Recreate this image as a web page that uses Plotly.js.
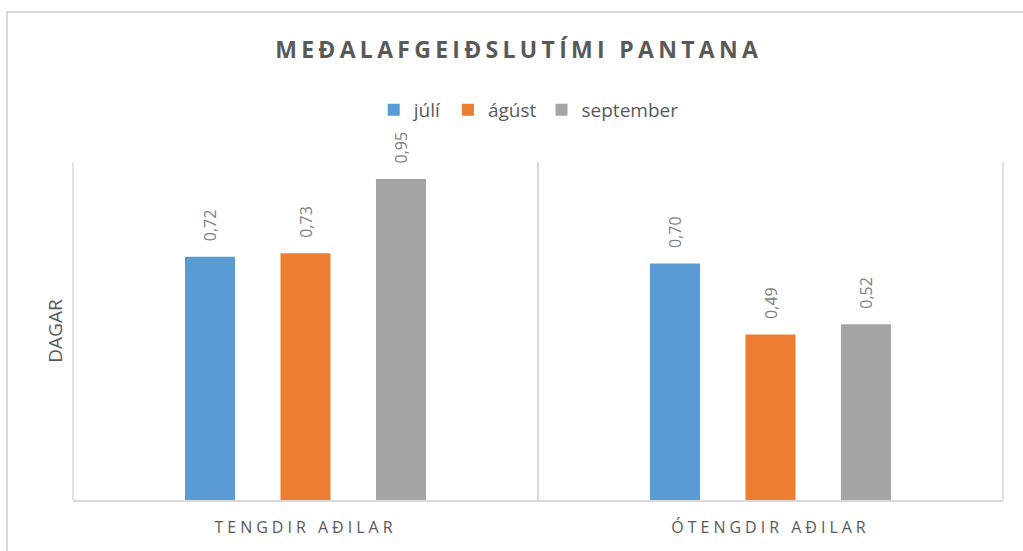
<!DOCTYPE html>
<html>
<head>
<meta charset="utf-8">
<script src="https://cdn.plot.ly/plotly-3.0.1.min.js"></script>
<style>
html,body{margin:0;padding:0;background:#fff;overflow:hidden;}
#wrap{position:relative;width:1023px;height:551px;}
#chart{width:1023px;height:551px;}
#frame{position:absolute;left:6px;top:11px;width:1040px;height:580px;border:2px solid #d9d9d9;pointer-events:none;box-sizing:border-box;}
.gtitle{letter-spacing:4.3px;}
.xtick text{letter-spacing:4px;}
</style>
</head>
<body>
<div id="wrap">
<div id="chart"></div>
<div id="frame"></div>
</div>
<script>
const categories = ["TENGDIR AÐILAR", "ÓTENGDIR AÐILAR"];
const seriesNames = ["júlí", "ágúst", "september"];
const juli = [0.72, 0.70];
const agust = [0.73, 0.49];
const september = [0.95, 0.52];
const colors = ["#5B9BD5", "#ED7D31", "#A5A5A5"];

const values = [juli, agust, september];
const traces = values.map((v, i) => ({
  type: "bar",
  name: seriesNames[i],
  x: categories,
  y: v,
  marker: {color: colors[i]},
  texttemplate: "\u00A0\u00A0\u00A0%{y:.2f}",
  textposition: "outside",
  textangle: -90,
  constraintext: "none",
  textfont: {family: "Open Sans", size: 16, color: "#808080"},
  cliponaxis: false,
  hoverinfo: "skip"
}));

const layout = {
  width: 1023, height: 551,
  margin: {l: 73, r: 20, t: 162, b: 51},
  paper_bgcolor: "#fff", plot_bgcolor: "#fff",
  separators: ", ",
  barmode: "group",
  bargap: 0.384,
  bargroupgap: 0.476,
  title: {
    text: "<b>MEÐALAFGEIÐSLUTÍMI PANTANA</b>",
    font: {family: "Open Sans", size: 23, color: "#595959"},
    x: 0.507, xanchor: "center",
    y: 1 - 50/551, yanchor: "middle"
  },
  legend: {
    orientation: "h", x: 0.49, xanchor: "center",
    y: 1 + (162 - 110) / 338, yanchor: "middle",
    font: {family: "Open Sans", size: 19, color: "#595959"},
    itemwidth: 30, traceorder: "normal"
  },
  xaxis: {
    type: "category",
    tickson: "boundaries",
    showgrid: true, gridcolor: "#d9d9d9", gridwidth: 1.5,
    showline: true, linecolor: "#d9d9d9", linewidth: 2,
    ticks: "", ticklen: 0,
    ticklabelstandoff: 12,
    tickfont: {family: "Open Sans", size: 16, color: "#595959"},
    zeroline: false, fixedrange: true
  },
  yaxis: {
    range: [0, 1.0],
    showgrid: false, zeroline: false,
    showticklabels: false, showline: false, ticks: "",
    title: {text: "DAGAR", font: {family: "Open Sans", size: 19, color: "#595959"}, standoff: 4},
    fixedrange: true
  },
  shapes: [
    {type: "line", xref: "paper", yref: "paper", x0: 0, x1: 0, y0: 0, y1: 1, line: {color: "#d9d9d9", width: 1.5}, layer: "below"},
    {type: "line", xref: "paper", yref: "paper", x0: 1, x1: 1, y0: 0, y1: 1, line: {color: "#d9d9d9", width: 1.5}, layer: "below"}
  ]
};

Plotly.newPlot("chart", traces, layout, {displayModeBar: false, staticPlot: true});
</script>
</body>
</html>
